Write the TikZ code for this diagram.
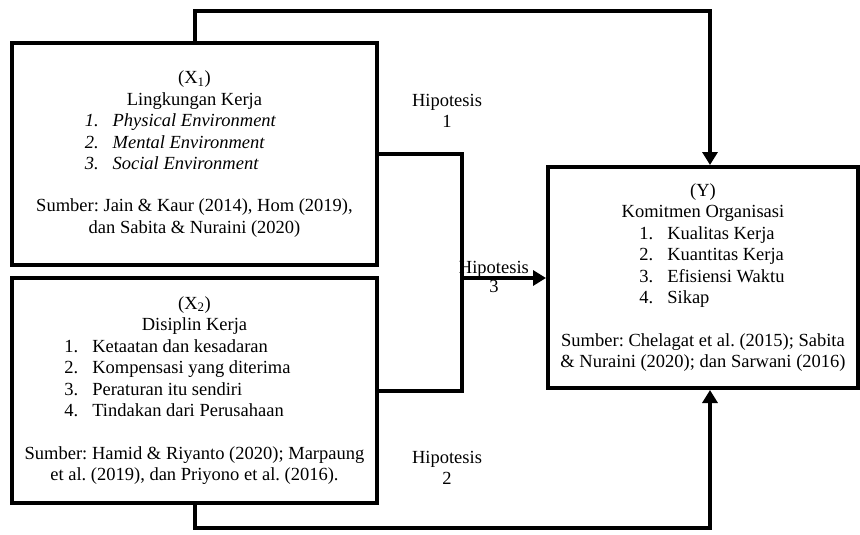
\documentclass[tikz,border=0pt]{standalone}
\usepackage{fontspec}
\setmainfont{Liberation Serif}
\usetikzlibrary{arrows.meta,positioning}
\frenchspacing

\begin{document}
\begin{tikzpicture}[x=1pt,y=-1pt,
  box/.style={draw,line width=4pt,rectangle,inner sep=0pt,align=center,font=\fontsize{18.5}{21.5}\selectfont},
  link/.style={line width=4pt},
  hypo/.style={link,-{Triangle[length=13pt,width=15pt]}},
  lbl/.style={align=center,font=\fontsize{18.5}{21.5}\selectfont}]
\useasboundingbox (0,0) rectangle (860,535);
% variabel
\node[box,minimum width=365pt,minimum height=222pt] (x1) at (194.5,154) {%
  (X\textsubscript{1})\\ Lingkungan Kerja\\
  \hspace*{-28pt}\begin{tabular}[t]{@{}r@{\hspace{14pt}}l@{}}
    \textit{1.} & \textit{Physical Environment}\\
    \textit{2.} & \textit{Mental Environment}\\
    \textit{3.} & \textit{Social Environment}
  \end{tabular}\\[22pt]
  Sumber: Jain \& Kaur (2014), Hom (2019),\\ dan Sabita \& Nuraini (2020)};
\node[box,minimum width=365pt,minimum height=225pt] (x2) at (194.5,390.5) {%
  (X\textsubscript{2})\\ Disiplin Kerja\\
  \hspace*{-34pt}\begin{tabular}[t]{@{}r@{\hspace{14pt}}l@{}}
    1. & Ketaatan dan kesadaran\\
    2. & Kompensasi yang diterima\\
    3. & Peraturan itu sendiri\\
    4. & Tindakan dari Perusahaan
  \end{tabular}\\[22pt]
  Sumber: Hamid \& Riyanto (2020); Marpaung\\ et al. (2019), dan Priyono et al. (2016).};
\node[box,minimum width=310pt,minimum height=221pt] (y) at (703,277.5) {%
  (Y)\\ Komitmen Organisasi\\
  \hspace*{18pt}\begin{tabular}[t]{@{}r@{\hspace{14pt}}l@{}}
    1. & Kualitas Kerja\\
    2. & Kuantitas Kerja\\
    3. & Efisiensi Waktu\\
    4. & Sikap
  \end{tabular}\\[22pt]
  Sumber: Chelagat et al. (2015); Sabita\\ \& Nuraini (2020); dan Sarwani (2016)};
% hipotesis
\coordinate (top) at (450,11);
\coordinate (bot) at (450,528);
\coordinate (jn) at (462,278);
\draw[hypo] (x1.north) |- (top) -| ([xshift=7pt]y.north);
\draw[hypo] (x2.south) |- (bot) -| ([xshift=7pt]y.south);
\draw[link] (x1.east) -| (jn) |- (x2.east);
\draw[hypo] (jn) -- node[lbl,pos=0.38,above=-5pt] {Hipotesis} node[lbl,pos=0.38,below=-3pt] {3} (jn -| y.west);
\node[lbl] (h1) at (447,111) {Hipotesis\\1};
\node[lbl] (h2) at (447,468) {Hipotesis\\2};
\end{tikzpicture}
\end{document}
